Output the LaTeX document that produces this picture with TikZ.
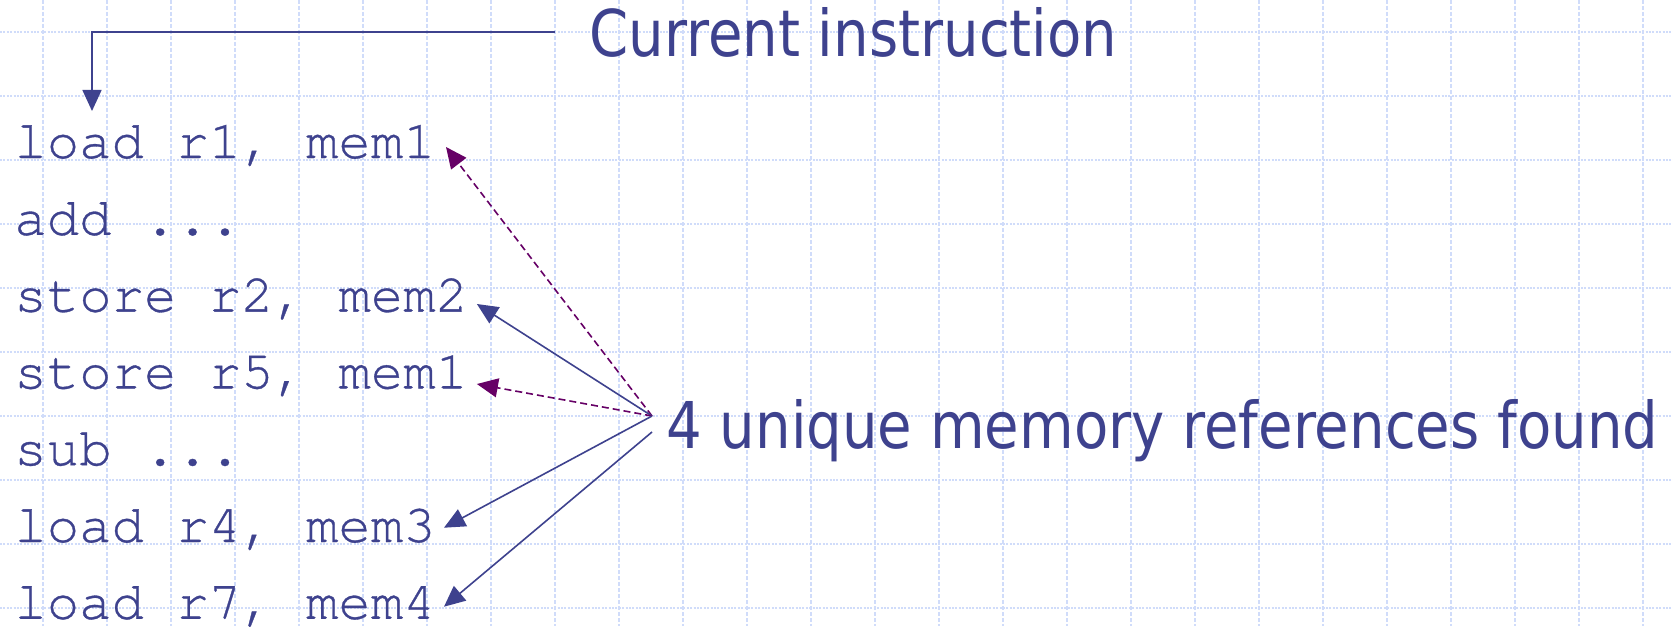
\documentclass[tikz,border=0pt]{standalone}
\usepackage{fontspec}
\setmonofont[FakeBold=0.6]{texgyrecursor-regular.otf}
\newfontfamily\labelfont[FakeStretch=0.87]{DejaVu Sans}
\usetikzlibrary{arrows.meta,positioning}
\definecolor{slideblue}{RGB}{62,66,142}
\definecolor{slidepurple}{RGB}{102,0,102}
\definecolor{gridblue}{RGB}{208,220,250}
\tikzset{
  codeline/.style={anchor=base west,inner sep=0pt,text=slideblue,
    font=\ttfamily\frenchspacing\fontsize{27}{32}\selectfont},
  bigtext/.style={anchor=base west,inner sep=0pt,text=slideblue,
    font=\labelfont\fontsize{32.25}{38}\selectfont},
  refarrow/.style={draw=slideblue,line width=0.8pt,-{Triangle[length=10.5pt,width=9.5pt]}},
  samearrow/.style={draw=slidepurple,line width=0.8pt,dash pattern=on 3.5pt off 2pt,
    -{Triangle[length=10.5pt,width=9.5pt]}},
}

\begin{document}
\begin{tikzpicture}[x=0.5pt,y=-0.5pt]
  \path[use as bounding box,fill=white] (0,0) rectangle (1673,626);

  % background grid
  \foreach \gx in {0,...,25}
    \draw[gridblue,line width=0.65pt,dash pattern=on 2pt off 1pt] (43+64*\gx,0)--(43+64*\gx,626);
  \foreach \gy in {0,...,9}
    \draw[gridblue,line width=0.65pt,dash pattern=on 1pt off 0.7pt] (0,32+64*\gy)--(1673,32+64*\gy);

  % instruction window
  \node[codeline] (c1) at (14,158)   {load r1, mem1};
  \node[codeline] (c2) at (14,234.8) {add ...};
  \node[codeline] (c3) at (14,311.6) {store r2, mem2};
  \node[codeline] (c4) at (14,388.4) {store r5, mem1};
  \node[codeline] (c5) at (14,465.2) {sub ...};
  \node[codeline] (c6) at (14,542)   {load r4, mem3};
  \node[codeline] (c7) at (14,618.8) {load r7, mem4};

  \node[bigtext] (cur) at (589,57) {Current instruction};
  \node[bigtext] (found) at (666,448) {4 unique memory references found};

  \coordinate (curtip) at (92,111);
  \draw[refarrow] ([shift={(-34,-25)}]cur.base west) -| (curtip);

  \coordinate (hub) at (652,416);
  \coordinate (hublow) at (652,432);
  \draw[samearrow] (hub)--([shift={(10,-11)}]c1.base east);
  \draw[refarrow] (hub)--([shift={(8.5,-7.6)}]c3.base east);
  \draw[samearrow] (hub)--([shift={(8.5,-4.4)}]c4.base east);
  \draw[refarrow] (hub)--([shift={(8,-14.3)}]c6.base east);
  \draw[refarrow] (hublow)--([shift={(8,-12.1)}]c7.base east);
\end{tikzpicture}
\end{document}
